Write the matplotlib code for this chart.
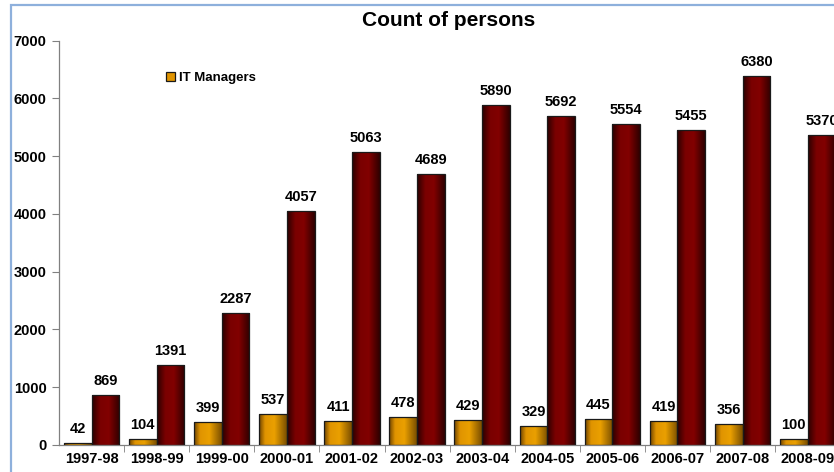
import numpy as np
import matplotlib
matplotlib.use("Agg")
import matplotlib.pyplot as plt
from matplotlib.colors import LinearSegmentedColormap
from matplotlib.patches import Rectangle, Patch

years = ["1997-98", "1998-99", "1999-00", "2000-01", "2001-02", "2002-03",
         "2003-04", "2004-05", "2005-06", "2006-07", "2007-08", "2008-09"]
it_managers = [42, 104, 399, 537, 411, 478, 429, 329, 445, 419, 356, 100]
others = [869, 1391, 2287, 4057, 5063, 4689, 5890, 5692, 5554, 5455, 6380, 5370]

plt.rcParams['font.family'] = ['Liberation Sans', 'DejaVu Sans']

orange_cmap = LinearSegmentedColormap.from_list(
    "orng", [(0, "#6e4400"), (0.22, "#e09400"), (0.55, "#eaa000"), (1, "#7a4e00")])
red_cmap = LinearSegmentedColormap.from_list(
    "rd", [(0, "#2a0000"), (0.3, "#7a0000"), (0.6, "#820000"), (1, "#2e0000")])

fig = plt.figure(figsize=(8.34, 4.72), dpi=100)
ax = fig.add_axes([59 / 834, 27 / 472, 12 * 65.1 / 834, (445 - 40.5) / 472])

x = np.arange(len(years))
w = 0.425
grad = np.linspace(0, 1, 256).reshape(1, -1)


def gradient_bars(xpos, vals, cmap):
    bars = ax.bar(xpos, vals, w, facecolor="none", edgecolor="#1a1a1a",
                  linewidth=0.9, zorder=3)
    for b in bars:
        x0, y0 = b.get_x(), b.get_y()
        im = ax.imshow(grad, cmap=cmap, aspect="auto", zorder=2,
                       extent=[x0, x0 + b.get_width(), y0, y0 + b.get_height()])
        im.set_clip_path(b)
    for b, v in zip(bars, vals):
        ax.annotate(str(v), (b.get_x() + b.get_width() / 2, v),
                    xytext=(0, 5), textcoords="offset points",
                    ha="center", va="bottom", fontsize=10.5, fontweight="bold")
    return bars


gradient_bars(x - w / 2, it_managers, orange_cmap)
gradient_bars(x + w / 2, others, red_cmap)

ax.set_xlim(-0.5, len(years) - 0.5)
ax.set_ylim(0, 7000)
ax.set_yticks(range(0, 7001, 1000))
ax.set_xticks(x)
ax.set_xticklabels(years, fontsize=10.5, fontweight="bold")
ax.set_xticks(np.arange(0.5, len(years) - 0.5, 1), minor=True)
ax.tick_params(axis="x", which="major", length=0, pad=5)
ax.tick_params(axis="x", which="minor", length=5, color="#808080")
ax.tick_params(axis="y", length=5, color="#808080", pad=4)
for lab in ax.get_yticklabels():
    lab.set_fontweight("bold")
    lab.set_fontsize(10.5)
for s in ["top", "right"]:
    ax.spines[s].set_visible(False)
for s in ["left", "bottom"]:
    ax.spines[s].set_color("#808080")
    ax.spines[s].set_linewidth(0.9)

handle = Patch(facecolor="#e09400", edgecolor="#1a1a1a", linewidth=0.9)
fig.legend([handle], ["IT Managers"], loc="center left",
           bbox_to_anchor=(154 / 834, 1 - 78 / 472), frameon=False,
           handlelength=0.7, handleheight=0.7, handletextpad=0.3,
           prop={"weight": "bold", "size": 9.5})

fig.text(449 / 834, 1 - 20 / 472, "Count of persons", ha="center", va="center",
         fontsize=15, fontweight="bold")

fig.patches.append(Rectangle((11 / 834, -0.1), 2, 1 - 5 / 472 + 0.1,
                             transform=fig.transFigure, fill=False,
                             edgecolor="#8eb0dc", linewidth=1.6))

fig.savefig("out.png", dpi=100)
